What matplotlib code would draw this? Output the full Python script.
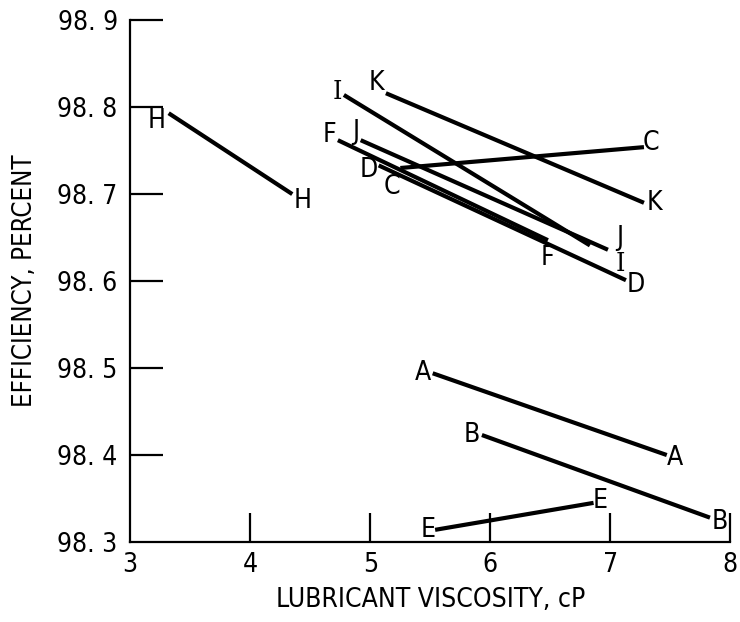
import numpy as np
import matplotlib
matplotlib.use("Agg")
import matplotlib.pyplot as plt

plt.rcParams['font.family'] = ['DejaVu Sans']
plt.rcParams['font.stretch'] = 'condensed'

# each run: (viscosity start, viscosity end), (efficiency start, efficiency end)
names = ['A', 'B', 'C', 'D', 'E', 'F', 'H', 'I', 'J', 'K']
visc_start = [5.52, 5.93, 5.25, 5.07, 5.54, 4.73, 3.32, 4.78, 4.92, 5.13]
visc_end = [7.47, 7.83, 7.28, 7.13, 6.86, 6.48, 4.35, 6.83, 6.98, 7.28]
eff_start = [98.494, 98.423, 98.730, 98.733, 98.314, 98.762, 98.793, 98.814, 98.762, 98.816]
eff_end = [98.400, 98.328, 98.754, 98.601, 98.345, 98.647, 98.700, 98.641, 98.636, 98.690]

xticks = [3, 4, 5, 6, 7, 8]
yticks = [98.3, 98.4, 98.5, 98.6, 98.7, 98.8, 98.9]
ytick_labels = ['98. 3', '98. 4', '98. 5', '98. 6', '98. 7', '98. 8', '98. 9']

# label offsets (pixels) from the line ends: start, end
label_off = {
    'A': ((-10, 0), (8, -3)),
    'B': ((-10, 0), (10, -4)),
    'C': ((-8, -19), (7, 4)),
    'D': ((-10, -5), (10, -5)),
    'E': ((-7, 0), (7, 2)),
    'F': ((-8, 5), (0, -18)),
    'H': ((-12, -8), (10, -7)),
    'I': ((-7, 3), (30, -18)),
    'J': ((-5, 8), (12, 12)),
    'K': ((-9, 10), (10, 0)),
}

fig = plt.figure(figsize=(7.4, 6.22), dpi=100)
ax = fig.add_axes([0.176, 0.1286, 0.811, 0.839])

for i, n in enumerate(names):
    xs = [visc_start[i], visc_end[i]]
    ys = [eff_start[i], eff_end[i]]
    ax.plot(xs, ys, color='black', lw=3, solid_capstyle='butt')
    # the "I" in the original is a slab-serif capital
    fam = ['DejaVu Serif'] if n == 'I' else ['DejaVu Sans']
    for (x, y), off in zip(zip(xs, ys), label_off[n]):
        ax.annotate(n, (x, y), xytext=off, textcoords='offset pixels',
                    ha='center', va='center', fontsize=19, family=fam)

ax.set_xlim(3, 8)
ax.set_ylim(98.3, 98.9)
ax.set_xticks(xticks)
ax.set_xticklabels([str(t) for t in xticks])
ax.set_yticks(yticks)
ax.set_yticklabels(ytick_labels)

for s in ['top', 'right']:
    ax.spines[s].set_visible(False)
for s in ['left', 'bottom']:
    ax.spines[s].set_linewidth(1.6)

ax.tick_params(axis='y', direction='in', length=24, width=1.6, labelsize=19, pad=9)
ax.tick_params(axis='x', direction='in', length=21, width=1.6, labelsize=19, pad=7)
ax.xaxis.get_major_ticks()[0].tick1line.set_visible(False)
ax.yaxis.get_major_ticks()[0].tick1line.set_visible(False)

ax.set_xlabel('LUBRICANT VISCOSITY, cP', fontsize=19, labelpad=7)
ax.set_ylabel('EFFICIENCY, PERCENT', fontsize=18.5, labelpad=14)

fig.savefig('out.png', dpi=100)
